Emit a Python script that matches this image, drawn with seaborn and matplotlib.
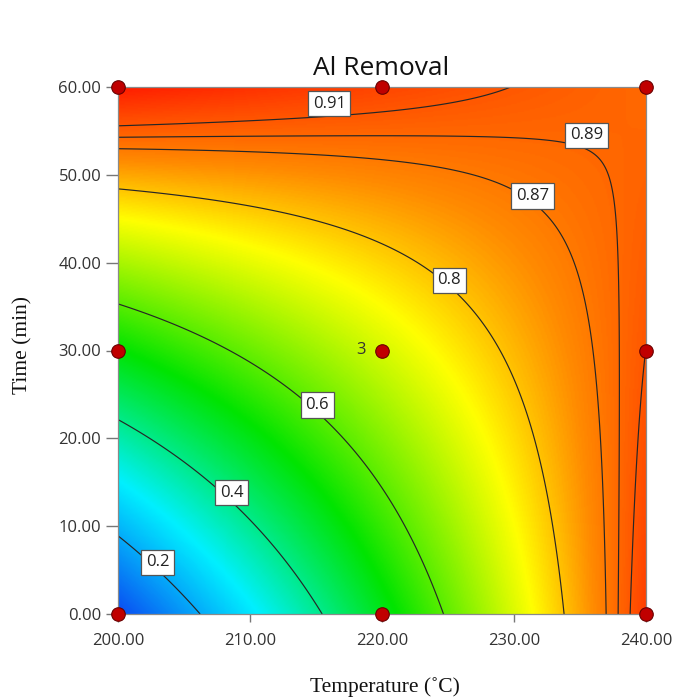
import numpy as np
import matplotlib
matplotlib.use("Agg")
import matplotlib.pyplot as plt
import seaborn as sns
import pandas as pd
from matplotlib.colors import LinearSegmentedColormap

# ---- data ----
# quadratic response-surface model (coded factors A: temperature, B: time)
model_terms = ["1", "A", "B", "AB", "A2", "B2"]
model_coef = [0.7120, 0.1955, 0.2162, -0.2397, 0.0028, 0.0027]
temp_range = [200, 240]
time_range = [0, 60]
contour_levels = [0.2, 0.4, 0.6, 0.8, 0.87, 0.89, 0.91]
label_levels = ["0.2", "0.4", "0.6", "0.8", "0.87", "0.89", "0.91"]
label_temp = [203.0, 208.6, 215.1, 225.1, 231.4, 235.5, 216.0]
label_time = [5.9, 13.8, 23.8, 38.0, 47.6, 54.5, 58.1]
design_temp = [200, 200, 200, 220, 220, 220, 240, 240, 240]
design_time = [0, 30, 60, 0, 30, 60, 0, 30, 60]
center_reps = "3"
x_ticks = [200, 210, 220, 230, 240]
y_ticks = [0, 10, 20, 30, 40, 50, 60]

sns.set_theme(style="white")
plt.rcParams["font.family"] = ["Open Sans", "DejaVu Sans"]

W, H = 673, 699
fig = plt.figure(figsize=(W / 100, H / 100), dpi=100)
ax = fig.add_axes([118 / W, (H - 614) / H, 528 / W, 527 / H])

xs = np.linspace(temp_range[0], temp_range[1], 400)
ys = np.linspace(time_range[0], time_range[1], 400)
XX, YY = np.meshgrid(xs, ys)
A = (XX - 220) / 20
B = (YY - 30) / 30
c = dict(zip(model_terms, model_coef))
Z = c["1"] + c["A"] * A + c["B"] * B + c["AB"] * A * B + c["A2"] * A**2 + c["B2"] * B**2

cmap = LinearSegmentedColormap.from_list(
    "dx", [(0.0, "#0a4cf2"), (0.25, "#00f0ff"), (0.5, "#00e400"),
           (0.75, "#ffff00"), (0.86, "#ff8c00"), (1.0, "#ff1e00")])
ax.imshow(Z, extent=[*temp_range, *time_range], origin="lower", aspect="auto",
          cmap=cmap, interpolation="bilinear", zorder=0)
ax.contour(XX, YY, Z, levels=contour_levels, colors="#262626", linewidths=0.85, zorder=2)

for txt, lx, ly in zip(label_levels, label_temp, label_time):
    ax.text(lx, ly, txt, ha="center", va="center", fontsize=12, color="#222222", zorder=4,
            bbox=dict(boxstyle="square,pad=0.28", facecolor="white", edgecolor="#555555", linewidth=0.9))

pts = pd.DataFrame({"Temperature": design_temp, "Time": design_time})
sns.scatterplot(data=pts, x="Temperature", y="Time", ax=ax, s=95, color="#c00000",
                edgecolor="#6a0000", linewidth=0.8, zorder=5, clip_on=False, legend=False)
ax.text(218.8, 30, center_reps, ha="right", va="center", fontsize=12, color="#333333", zorder=5)

ax.set_xlim(*temp_range)
ax.set_ylim(*time_range)
ax.set_xticks(x_ticks)
ax.set_xticklabels([f"{v:.2f}" for v in x_ticks])
ax.set_yticks(y_ticks)
ax.set_yticklabels([f"{v:.2f}" for v in y_ticks])
ax.tick_params(axis="x", direction="out", length=5.5, width=1, color="#777777",
               pad=8, labelsize=12, labelcolor="#333333", bottom=True)
ax.tick_params(axis="y", direction="out", length=9, width=1, color="#777777",
               pad=3, labelsize=12, labelcolor="#333333", left=True)
for s in ax.spines.values():
    s.set_color("#8a8a8a")
    s.set_linewidth(0.9)
ax.set_xlabel("")
ax.set_ylabel("")

fig.text(381 / W, 1 - 75 / H, "Al Removal", ha="center", va="baseline", fontsize=19, color="#111111")
fig.text(385 / W, 1 - 687 / H, "Temperature (˚C)", ha="center", va="center", fontsize=15.5,
         family=["Liberation Serif", "DejaVu Serif"], color="#111111")
fig.text(23 / W, 1 - 345 / H, "Time (min)", ha="center", va="center", rotation=90, fontsize=15.5,
         family=["Liberation Serif", "DejaVu Serif"], color="#111111")

fig.savefig("out.png", dpi=100, facecolor="white")
